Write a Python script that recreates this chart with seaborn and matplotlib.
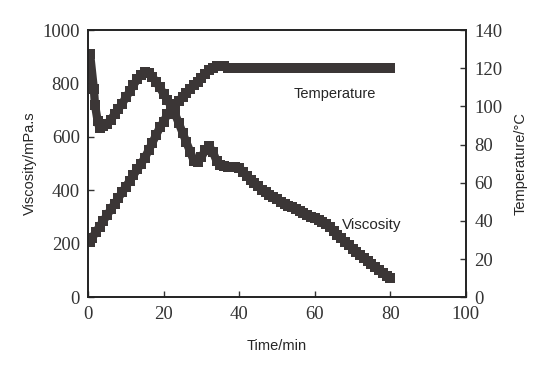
import pandas as pd
import seaborn as sns
import matplotlib.pyplot as plt

# viscosity curve (left axis)
visc_time = [0.5, 1.5, 1.8, 2.5, 3, 4, 5, 6, 7, 8, 9, 10, 11, 12, 13, 14, 15, 16, 17, 18, 19, 20,
             21, 22, 23, 24, 25, 26, 27, 28, 29, 30, 31, 32, 33, 34, 35, 36, 37, 38, 39, 40,
             41, 42, 43, 44, 45, 46, 47, 48, 49, 50, 51, 52, 53, 54, 55, 56, 57, 58, 59, 60,
             61, 62, 63, 64, 65, 66, 67, 68, 69, 70, 71, 72, 73, 74, 75, 76, 77, 78, 79, 80]
viscosity = [910, 780, 720, 660, 632, 640, 650, 665, 685, 705, 725, 748, 770, 795, 815, 832, 842, 840, 825, 805, 785, 760,
             737, 714, 686, 651, 616, 580, 545, 510, 505, 525, 550, 565, 545, 510, 495, 490, 488, 487, 486, 485,
             470, 455, 440, 428, 415, 403, 392, 382, 374, 366, 358, 350, 343, 336, 330, 323, 316, 309, 302, 296,
             289, 282, 275, 262, 248, 234, 220, 207, 195, 182, 170, 158, 146, 135, 124, 113, 102, 92, 80, 72]

# temperature curve (right axis)
temp_time = [0.5] + list(range(1, 81))
temperature = [29, 31, 34, 37, 40, 43, 46, 49, 52, 55, 58, 61, 64, 67, 70, 73, 77, 81, 85, 89, 92,
               96, 99, 101, 103, 105, 107, 109, 111, 113, 115, 117, 119, 120, 121, 121, 121, 120, 120, 120, 120,
               120, 120, 120, 120, 120, 120, 120, 120, 120, 120, 120, 120, 120, 120, 120, 120, 120, 120, 120, 120,
               120, 120, 120, 120, 120, 120, 120, 120, 120, 120, 120, 120, 120, 120, 120, 120, 120, 120, 120, 120]

df_v = pd.DataFrame({'Time': visc_time, 'Viscosity': viscosity})
df_t = pd.DataFrame({'Time': temp_time, 'Temperature': temperature})

sns.set_style('ticks')
plt.rcParams['font.family'] = ['Liberation Sans', 'DejaVu Sans']

col = '#3b3636'
fig = plt.figure(figsize=(5.41, 3.71), dpi=100)
ax = fig.add_axes([0.163, 0.199, 0.698, 0.72])
sns.lineplot(data=df_v, x='Time', y='Viscosity', ax=ax, color=col, lw=6,
             marker='s', markersize=7.5, markeredgewidth=0)
ax2 = ax.twinx()
sns.lineplot(data=df_t, x='Time', y='Temperature', ax=ax2, color=col, lw=6,
             marker='s', markersize=7.5, markeredgewidth=0)

ax.set_xlim(0, 100)
ax.set_ylim(0, 1000)
ax2.set_ylim(0, 140)
ax.set_xticks(range(0, 101, 20))
ax.set_yticks(range(0, 1001, 200))
ax2.set_yticks(range(0, 141, 20))

for a in (ax, ax2):
    a.tick_params(direction='in', length=4, width=1, colors='#333333', pad=6)
    for lab in a.get_xticklabels() + a.get_yticklabels():
        lab.set_fontfamily('Liberation Serif')
        lab.set_fontsize(13.5)
    for s in a.spines.values():
        s.set_visible(True)
        s.set_linewidth(1.2)
        s.set_color('#222222')

ax.set_xlabel('Time/min', fontsize=10.5, labelpad=12)
ax.set_ylabel('Viscosity/mPa.s', fontsize=10.5, labelpad=4)
ax2.set_ylabel('Temperature/°C', fontsize=10.5, labelpad=8)

ax.text(65.3, 762, 'Temperature', fontsize=10.5, ha='center', va='center')
ax.text(75.2, 272, 'Viscosity', fontsize=11, ha='center', va='center')

fig.savefig('out.png', dpi=100)
